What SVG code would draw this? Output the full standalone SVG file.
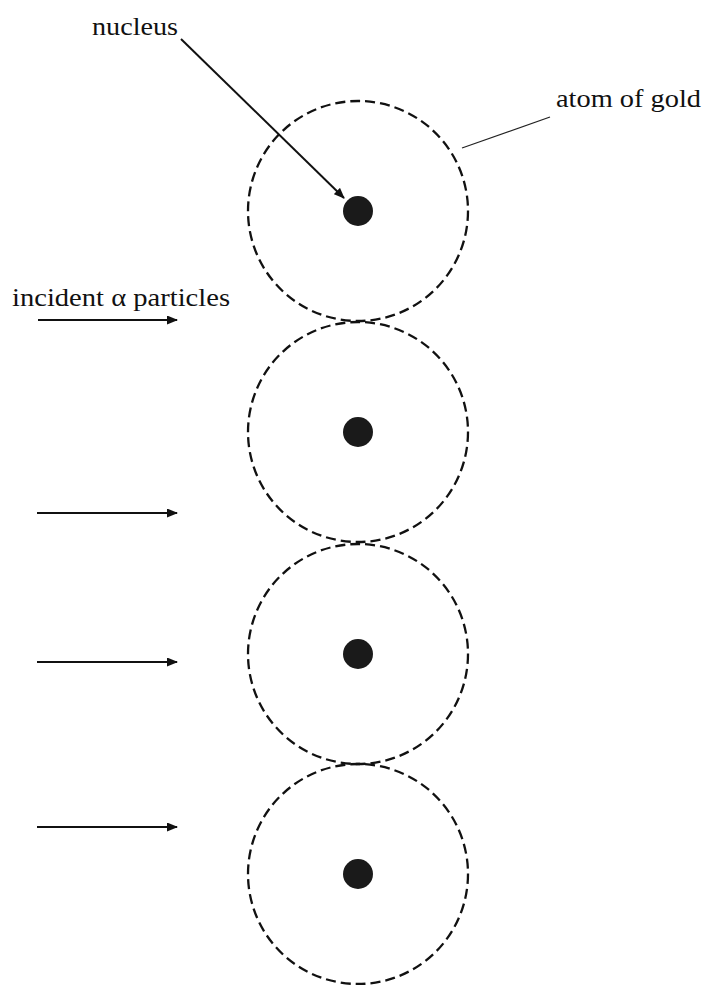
<svg xmlns="http://www.w3.org/2000/svg" width="704" height="985" viewBox="0 0 704 985">
<style>
.atom{fill:none;stroke:#111;stroke-width:2.3;stroke-dasharray:10 5}
.nuc{fill:#1a1a1a}
.lbl{font-family:"Liberation Serif","Times New Roman",serif;font-size:25px;fill:#111}
.arr{stroke:#111;stroke-width:2;fill:none}
.lead{stroke:#222;stroke-width:1.2;fill:none}
</style>
<defs>
<marker id="ah" markerWidth="11" markerHeight="9" refX="10" refY="4.5" orient="auto" markerUnits="userSpaceOnUse">
<path d="M0,0 L11,4.5 L0,9 Z" fill="#111"/>
</marker>
</defs>
<rect width="704" height="985" fill="#ffffff"/>
<g id="atom1"><circle class="atom" cx="358" cy="211" r="110"/><circle class="nuc" cx="358" cy="211" r="15"/></g>
<g id="atom2"><circle class="atom" cx="358" cy="432" r="110"/><circle class="nuc" cx="358" cy="432" r="15"/></g>
<g id="atom3"><circle class="atom" cx="358" cy="654" r="110"/><circle class="nuc" cx="358" cy="654" r="15"/></g>
<g id="atom4"><circle class="atom" cx="358" cy="874" r="110"/><circle class="nuc" cx="358" cy="874" r="15"/></g>
<g id="labels">
<text class="lbl" x="92" y="35" textLength="86" lengthAdjust="spacingAndGlyphs">nucleus</text>
<text class="lbl" x="556" y="107" textLength="145" lengthAdjust="spacingAndGlyphs">atom of gold</text>
<text class="lbl" x="12" y="306" textLength="218" lengthAdjust="spacingAndGlyphs">incident α particles</text>
</g>
<g id="connectors">
<line class="arr" x1="181" y1="39" x2="344" y2="198" marker-end="url(#ah)"/>
<line class="lead" x1="462" y1="148" x2="550" y2="117"/>
<line class="arr" x1="38" y1="320" x2="177" y2="320" marker-end="url(#ah)"/>
<line class="arr" x1="37" y1="513" x2="177" y2="513" marker-end="url(#ah)"/>
<line class="arr" x1="37" y1="662" x2="177" y2="662" marker-end="url(#ah)"/>
<line class="arr" x1="37" y1="827" x2="177" y2="827" marker-end="url(#ah)"/>
</g>
</svg>
